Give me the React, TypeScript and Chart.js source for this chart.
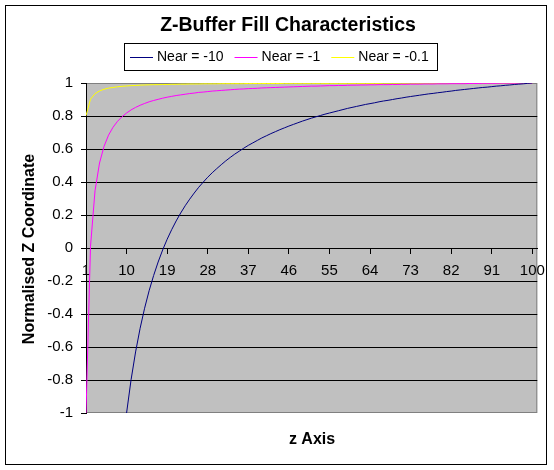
import React, { useEffect, useRef } from "react";
import { Chart, registerables } from "chart.js";

Chart.register(...registerables);

const FONT = '"Liberation Sans", Arial, sans-serif';

const CHART_TITLE = "Z-Buffer Fill Characteristics";
const X_TITLE = "z Axis";
const Y_TITLE = "Normalised Z Coordinate";

const seriesNames = ["Near = -10", "Near = -1", "Near = -0.1"];
const seriesColors = ["#000080", "#FF00FF", "#FFFF00"];

const zValues = [
  1, 2, 3, 4, 5, 6, 7, 8, 9, 10,
  11, 12, 13, 14, 15, 16, 17, 18, 19, 20,
  21, 22, 23, 24, 25, 26, 27, 28, 29, 30,
  31, 32, 33, 34, 35, 36, 37, 38, 39, 40,
  41, 42, 43, 44, 45, 46, 47, 48, 49, 50,
  51, 52, 53, 54, 55, 56, 57, 58, 59, 60,
  61, 62, 63, 64, 65, 66, 67, 68, 69, 70,
  71, 72, 73, 74, 75, 76, 77, 78, 79, 80,
  81, 82, 83, 84, 85, 86, 87, 88, 89, 90,
  91, 92, 93, 94, 95, 96, 97, 98, 99, 100,
];

const xTickValues = [1, 10, 19, 28, 37, 46, 55, 64, 73, 82, 91, 100];
const yTickValues = [-1, -0.8, -0.6, -0.4, -0.2, 0, 0.2, 0.4, 0.6, 0.8, 1];

const near10 = [
  null, null, null, null, null, null, null, null, null, -1.0,
  -0.798, -0.63, -0.487, -0.365, -0.259, -0.167, -0.085, -0.012, 0.053, 0.111,
  0.164, 0.212, 0.256, 0.296, 0.333, 0.368, 0.399, 0.429, 0.456, 0.481,
  0.505, 0.528, 0.549, 0.569, 0.587, 0.605, 0.622, 0.637, 0.652, 0.667,
  0.68, 0.693, 0.705, 0.717, 0.728, 0.739, 0.749, 0.759, 0.769, 0.778,
  0.787, 0.795, 0.803, 0.811, 0.818, 0.825, 0.832, 0.839, 0.846, 0.852,
  0.858, 0.864, 0.87, 0.875, 0.88, 0.886, 0.891, 0.895, 0.9, 0.905,
  0.909, 0.914, 0.918, 0.922, 0.926, 0.93, 0.934, 0.937, 0.941, 0.944,
  0.948, 0.951, 0.955, 0.958, 0.961, 0.964, 0.967, 0.97, 0.973, 0.975,
  0.978, 0.981, 0.983, 0.986, 0.988, 0.991, 0.993, 0.995, 0.998, 1.0,
];

const near1 = [
  -1.0, 0.01, 0.347, 0.515, 0.616, 0.684, 0.732, 0.768, 0.796, 0.818,
  0.837, 0.852, 0.865, 0.876, 0.886, 0.894, 0.901, 0.908, 0.914, 0.919,
  0.924, 0.928, 0.932, 0.936, 0.939, 0.943, 0.945, 0.948, 0.951, 0.953,
  0.955, 0.957, 0.959, 0.961, 0.963, 0.964, 0.966, 0.967, 0.968, 0.97,
  0.971, 0.972, 0.973, 0.974, 0.975, 0.976, 0.977, 0.978, 0.979, 0.98,
  0.981, 0.981, 0.982, 0.983, 0.984, 0.984, 0.985, 0.985, 0.986, 0.987,
  0.987, 0.988, 0.988, 0.989, 0.989, 0.99, 0.99, 0.99, 0.991, 0.991,
  0.992, 0.992, 0.993, 0.993, 0.993, 0.994, 0.994, 0.994, 0.995, 0.995,
  0.995, 0.996, 0.996, 0.996, 0.996, 0.997, 0.997, 0.997, 0.998, 0.998,
  0.998, 0.998, 0.999, 0.999, 0.999, 0.999, 0.999, 1.0, 1.0, 1.0,
];

const near01 = [
  0.802, 0.902, 0.935, 0.952, 0.962, 0.969, 0.973, 0.977, 0.98, 0.982,
  0.984, 0.985, 0.987, 0.988, 0.989, 0.99, 0.99, 0.991, 0.991, 0.992,
  0.992, 0.993, 0.993, 0.994, 0.994, 0.994, 0.995, 0.995, 0.995, 0.995,
  0.996, 0.996, 0.996, 0.996, 0.996, 0.996, 0.997, 0.997, 0.997, 0.997,
  0.997, 0.997, 0.997, 0.997, 0.998, 0.998, 0.998, 0.998, 0.998, 0.998,
  0.998, 0.998, 0.998, 0.998, 0.998, 0.998, 0.998, 0.998, 0.998, 0.998,
  0.998, 0.998, 0.998, 0.998, 0.998, 0.998, 0.999, 0.999, 0.999, 0.999,
  0.999, 0.999, 0.999, 0.999, 0.999, 0.999, 0.999, 0.999, 0.999, 1.0,
  1.0, 1.0, 1.0, 1.0, 1.0, 1.0, 1.0, 1.0, 1.0, 1.0,
  1.0, 1.0, 1.0, 1.0, 1.0, 1.0, 1.0, 1.0, 1.0, 1.0,
];

const seriesValues = [near10, near1, near01];

const decorPlugin = {
  id: "excelDecor",
  beforeDraw(chart: any) {
    const { ctx, chartArea } = chart;
    ctx.save();
    ctx.fillStyle = "#FFFFFF";
    ctx.fillRect(0, 0, chart.width, chart.height);
    ctx.fillStyle = "#C0C0C0";
    ctx.fillRect(chartArea.left, chartArea.top, chartArea.right - chartArea.left, chartArea.bottom - chartArea.top);
    ctx.strokeStyle = "#808080";
    ctx.lineWidth = 1;
    ctx.strokeRect(
      chartArea.left + 0.5,
      chartArea.top + 0.5,
      chartArea.right - chartArea.left - 1,
      chartArea.bottom - chartArea.top - 1
    );
    ctx.restore();
  },
  afterDraw(chart: any) {
    const { ctx } = chart;
    ctx.save();
    // outer border
    ctx.strokeStyle = "#000000";
    ctx.lineWidth = 1;
    ctx.strokeRect(5.5, 5.5, 541, 459);

    // title
    ctx.fillStyle = "#000000";
    ctx.font = `bold 19.5px ${FONT}`;
    ctx.textAlign = "center";
    ctx.textBaseline = "middle";
    ctx.fillText(CHART_TITLE, 288, 26);

    // legend
    ctx.font = `14px ${FONT}`;
    const items = chart.data.datasets.map((ds: any) => ({
      label: ds.label,
      color: ds.borderColor,
      w: ctx.measureText(ds.label).width,
    }));
    const lineLen = 23;
    const gapLT = 4;
    const gapItem = 11;
    const padL = 6;
    const padR = 8;
    let total = padL + padR + gapItem * (items.length - 1);
    items.forEach((it: any) => (total += lineLen + gapLT + it.w));
    const left = Math.round(280 - total / 2);
    ctx.strokeStyle = "#000000";
    ctx.strokeRect(left + 0.5, 43.5, Math.round(total), 27);
    let x = left + padL;
    ctx.textAlign = "left";
    items.forEach((it: any) => {
      ctx.fillStyle = it.color;
      ctx.fillRect(x, 57, lineLen, 1);
      x += lineLen + gapLT;
      ctx.fillStyle = "#000000";
      ctx.fillText(it.label, x, 57.5);
      x += it.w + gapItem;
    });

    // axis titles
    ctx.font = `bold 16px ${FONT}`;
    ctx.textAlign = "center";
    ctx.fillText(X_TITLE, 312, 440);
    ctx.translate(30, 249);
    ctx.rotate(-Math.PI / 2);
    ctx.fillText(Y_TITLE, 0, 0);
    ctx.restore();
  },
};

export default function App() {
  const canvasRef = useRef<HTMLCanvasElement | null>(null);

  useEffect(() => {
    if (!canvasRef.current) return;
    const chart = new Chart(canvasRef.current, {
      type: "line",
      data: {
        labels: zValues,
        datasets: seriesNames.map((name, i) => ({
          label: name,
          data: seriesValues[i] as any,
          borderColor: seriesColors[i],
          backgroundColor: seriesColors[i],
          borderWidth: 1,
          pointRadius: 0,
          pointHoverRadius: 0,
          tension: 0,
          fill: false,
          spanGaps: false,
        })),
      },
      options: {
        animation: false,
        responsive: false,
        devicePixelRatio: 1,
        events: [],
        layout: { padding: { left: 0, top: 83, right: 15, bottom: 57 } },
        plugins: {
          legend: { display: false },
          title: { display: false },
          tooltip: { enabled: false },
        },
        scales: {
          x: {
            type: "linear",
            position: { y: 0 } as any,
            min: 1,
            max: 101.1,
            afterBuildTicks: (scale: any) => {
              scale.ticks = xTickValues.map((v) => ({ value: v }));
            },
            grid: {
              display: true,
              drawOnChartArea: false,
              drawTicks: true,
              tickLength: 5,
              color: "#000000",
              tickColor: "#000000",
            },
            border: { display: true, color: "#000000", width: 1 },
            ticks: {
              autoSkip: false,
              maxRotation: 0,
              padding: 9,
              color: "#000000",
              font: { family: FONT, size: 15 },
              callback: (v: any) => String(v),
            },
          },
          y: {
            type: "linear",
            position: "left",
            min: -1,
            max: 1,
            afterBuildTicks: (scale: any) => {
              scale.ticks = yTickValues.map((v) => ({ value: v }));
            },
            afterFit: (scale: any) => {
              scale.width = 86;
            },
            grid: {
              display: true,
              drawOnChartArea: true,
              drawTicks: true,
              tickLength: 5,
              color: (c: any) =>
                c.tick && Math.abs(Math.abs(c.tick.value) - 1) < 1e-9 ? "rgba(0,0,0,0)" : "#000000",
              tickColor: "#000000",
            },
            border: { display: true, color: "#000000", width: 1 },
            ticks: {
              padding: 8,
              color: "#000000",
              font: { family: FONT, size: 15 },
              callback: (v: any) => String(Number(Number(v).toFixed(1))),
            },
          },
        },
      },
      plugins: [decorPlugin],
    });
    return () => chart.destroy();
  }, []);

  return (
    <div style={{ position: "absolute", left: 0, top: 0, width: 554, height: 470 }}>
      <canvas ref={canvasRef} width={554} height={470} style={{ display: "block" }} />
    </div>
  );
}
